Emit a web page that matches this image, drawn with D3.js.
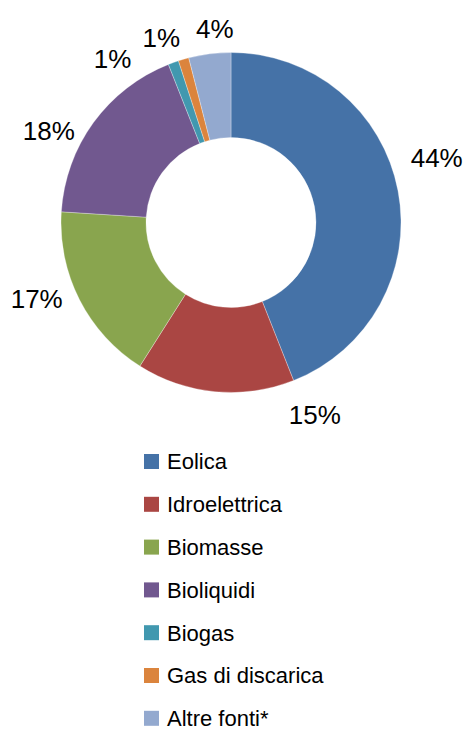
<!DOCTYPE html>
<html>
<head>
<meta charset="utf-8">
<script src="https://cdn.jsdelivr.net/npm/d3@7"></script>
<style>
  html, body { margin: 0; padding: 0; background: #fff; }
  svg { display: block; }
  text { font-family: "Liberation Sans", Arial, sans-serif; fill: #000; }
</style>
</head>
<body>
<svg id="chart" width="467" height="731"></svg>
<script>
// Renewable electricity sources, share of total (%)
const categories = ["Eolica", "Idroelettrica", "Biomasse", "Bioliquidi", "Biogas", "Gas di discarica", "Altre fonti*"];
const shares = [44, 15, 17, 18, 1, 1, 4];
const colors = ["#4572A7", "#AA4643", "#89A54E", "#71588F", "#4198AF", "#DB843D", "#93A9CF"];

// Label placement around the ring: angular nudge (degrees) and distance from centre
const labelShift = [-6.7, -29, 5.6, -9.2, -16.1, -4.5, 2.4];
const labelRadius = [215.7, 209.2, 208.7, 204.2, 201.9, 197.2, 194.8];

const svg = d3.select("#chart");
const cx = 231, cy = 222.5;
const outerR = 170, innerR = 85;

const pie = d3.pie().sort(null).value(d => d.value).startAngle(0).endAngle(2 * Math.PI);
const data = categories.map((c, i) => ({ name: c, value: shares[i], color: colors[i], i }));
const arcs = pie(data);

const arc = d3.arc().innerRadius(innerR).outerRadius(outerR);

const g = svg.append("g").attr("transform", `translate(${cx},${cy})`);

g.selectAll("path.slice")
  .data(arcs)
  .join("path")
  .attr("class", "slice")
  .attr("d", arc)
  .attr("fill", d => d.data.color)
  .attr("stroke", "#ffffff")
  .attr("stroke-opacity", 0.5)
  .attr("stroke-width", 0.6);

// Percentage labels outside the ring
const labelAngle = d => (d.startAngle + d.endAngle) / 2 + labelShift[d.data.i] * Math.PI / 180;

g.selectAll("text.pct")
  .data(arcs)
  .join("text")
  .attr("class", "pct")
  .attr("text-anchor", "middle")
  .attr("dy", "0.36em")
  .style("font-size", "26px")
  .attr("x", d => Math.sin(labelAngle(d)) * labelRadius[d.data.i])
  .attr("y", d => -Math.cos(labelAngle(d)) * labelRadius[d.data.i])
  .text(d => d3.format(".0f")(d.data.value) + "%");

// Legend
const legendX = 144, legendY = 461.5, rowH = 42.8, box = 15;
const legend = svg.append("g");
const rows = legend.selectAll("g.row")
  .data(data)
  .join("g")
  .attr("class", "row")
  .attr("transform", (d, i) => `translate(${legendX},${legendY + i * rowH})`);

rows.append("rect")
  .attr("x", 0)
  .attr("y", -box / 2)
  .attr("width", box)
  .attr("height", box)
  .attr("fill", d => d.color);

rows.append("text")
  .attr("x", 23)
  .attr("dy", "0.36em")
  .style("font-size", "22px")
  .text(d => d.name);
</script>
</body>
</html>
